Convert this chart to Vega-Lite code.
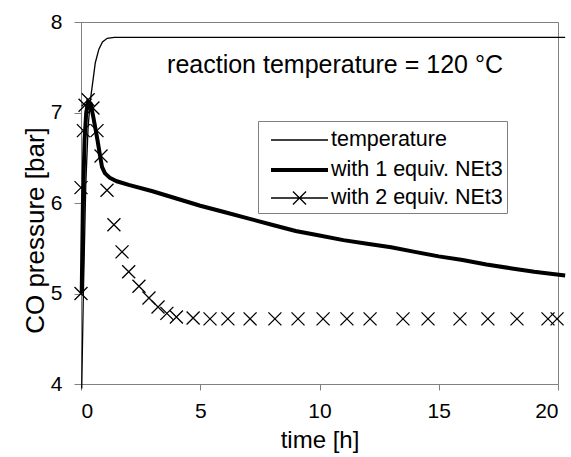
{
  "$schema": "https://vega.github.io/schema/vega-lite/v6.json",
  "width": 477,
  "height": 362,
  "autosize": {"type": "none"},
  "padding": {"left": 81, "top": 22, "right": 13, "bottom": 73},
  "background": "white",
  "config": {
    "view": {"stroke": "#808080", "strokeWidth": 1},
    "font": "Liberation Sans",
    "axis": {
      "grid": false,
      "domainColor": "#808080",
      "tickColor": "#808080",
      "labelColor": "black",
      "titleColor": "black",
      "labelFont": "Liberation Sans",
      "titleFont": "Liberation Sans",
      "titleFontWeight": "normal",
      "labelFontSize": 21,
      "titleFontSize": 24
    }
  },
  "datasets": {
    "main": [
      {"series": "temperature", "t": 0.03, "p": 3.95},
      {"series": "temperature", "t": 0.1, "p": 5.0},
      {"series": "temperature", "t": 0.2, "p": 6.2},
      {"series": "temperature", "t": 0.3, "p": 6.85},
      {"series": "temperature", "t": 0.4, "p": 7.15},
      {"series": "temperature", "t": 0.5, "p": 7.35},
      {"series": "temperature", "t": 0.6, "p": 7.55},
      {"series": "temperature", "t": 0.75, "p": 7.7},
      {"series": "temperature", "t": 0.9, "p": 7.78},
      {"series": "temperature", "t": 1.1, "p": 7.82},
      {"series": "temperature", "t": 1.4, "p": 7.83},
      {"series": "temperature", "t": 20.3, "p": 7.83},
      {"series": "with 1 equiv. NEt3", "t": 0.03, "p": 5.0},
      {"series": "with 1 equiv. NEt3", "t": 0.08, "p": 6.0},
      {"series": "with 1 equiv. NEt3", "t": 0.15, "p": 6.7},
      {"series": "with 1 equiv. NEt3", "t": 0.22, "p": 7.0},
      {"series": "with 1 equiv. NEt3", "t": 0.3, "p": 7.12},
      {"series": "with 1 equiv. NEt3", "t": 0.4, "p": 7.1},
      {"series": "with 1 equiv. NEt3", "t": 0.5, "p": 6.97},
      {"series": "with 1 equiv. NEt3", "t": 0.6, "p": 6.83},
      {"series": "with 1 equiv. NEt3", "t": 0.7, "p": 6.68},
      {"series": "with 1 equiv. NEt3", "t": 0.8, "p": 6.52},
      {"series": "with 1 equiv. NEt3", "t": 0.88, "p": 6.4},
      {"series": "with 1 equiv. NEt3", "t": 1.0, "p": 6.33},
      {"series": "with 1 equiv. NEt3", "t": 1.2, "p": 6.28},
      {"series": "with 1 equiv. NEt3", "t": 1.5, "p": 6.24},
      {"series": "with 1 equiv. NEt3", "t": 2, "p": 6.2},
      {"series": "with 1 equiv. NEt3", "t": 3, "p": 6.13},
      {"series": "with 1 equiv. NEt3", "t": 4, "p": 6.05},
      {"series": "with 1 equiv. NEt3", "t": 5, "p": 5.97},
      {"series": "with 1 equiv. NEt3", "t": 6, "p": 5.9},
      {"series": "with 1 equiv. NEt3", "t": 7, "p": 5.83},
      {"series": "with 1 equiv. NEt3", "t": 8, "p": 5.76},
      {"series": "with 1 equiv. NEt3", "t": 9, "p": 5.69},
      {"series": "with 1 equiv. NEt3", "t": 10, "p": 5.64},
      {"series": "with 1 equiv. NEt3", "t": 11, "p": 5.59},
      {"series": "with 1 equiv. NEt3", "t": 12, "p": 5.55},
      {"series": "with 1 equiv. NEt3", "t": 13, "p": 5.51},
      {"series": "with 1 equiv. NEt3", "t": 14, "p": 5.46},
      {"series": "with 1 equiv. NEt3", "t": 15, "p": 5.41},
      {"series": "with 1 equiv. NEt3", "t": 16, "p": 5.37},
      {"series": "with 1 equiv. NEt3", "t": 17, "p": 5.32},
      {"series": "with 1 equiv. NEt3", "t": 18, "p": 5.28},
      {"series": "with 1 equiv. NEt3", "t": 19, "p": 5.24},
      {"series": "with 1 equiv. NEt3", "t": 20.3, "p": 5.2},
      {"series": "with 2 equiv. NEt3", "t": 0.0, "p": 5.0},
      {"series": "with 2 equiv. NEt3", "t": 0.0, "p": 6.17},
      {"series": "with 2 equiv. NEt3", "t": 0.1, "p": 6.8},
      {"series": "with 2 equiv. NEt3", "t": 0.17, "p": 7.08},
      {"series": "with 2 equiv. NEt3", "t": 0.3, "p": 7.14},
      {"series": "with 2 equiv. NEt3", "t": 0.5, "p": 7.05},
      {"series": "with 2 equiv. NEt3", "t": 0.67, "p": 6.8},
      {"series": "with 2 equiv. NEt3", "t": 0.84, "p": 6.52},
      {"series": "with 2 equiv. NEt3", "t": 1.09, "p": 6.14},
      {"series": "with 2 equiv. NEt3", "t": 1.38, "p": 5.76},
      {"series": "with 2 equiv. NEt3", "t": 1.72, "p": 5.46},
      {"series": "with 2 equiv. NEt3", "t": 2.0, "p": 5.24},
      {"series": "with 2 equiv. NEt3", "t": 2.43, "p": 5.08},
      {"series": "with 2 equiv. NEt3", "t": 2.85, "p": 4.95},
      {"series": "with 2 equiv. NEt3", "t": 3.23, "p": 4.85},
      {"series": "with 2 equiv. NEt3", "t": 3.6, "p": 4.78},
      {"series": "with 2 equiv. NEt3", "t": 4.0, "p": 4.74},
      {"series": "with 2 equiv. NEt3", "t": 4.7, "p": 4.73},
      {"series": "with 2 equiv. NEt3", "t": 5.41, "p": 4.72},
      {"series": "with 2 equiv. NEt3", "t": 6.16, "p": 4.72},
      {"series": "with 2 equiv. NEt3", "t": 7.09, "p": 4.72},
      {"series": "with 2 equiv. NEt3", "t": 8.13, "p": 4.72},
      {"series": "with 2 equiv. NEt3", "t": 9.1, "p": 4.72},
      {"series": "with 2 equiv. NEt3", "t": 10.15, "p": 4.72},
      {"series": "with 2 equiv. NEt3", "t": 11.15, "p": 4.72},
      {"series": "with 2 equiv. NEt3", "t": 12.12, "p": 4.72},
      {"series": "with 2 equiv. NEt3", "t": 13.5, "p": 4.72},
      {"series": "with 2 equiv. NEt3", "t": 14.55, "p": 4.72},
      {"series": "with 2 equiv. NEt3", "t": 15.89, "p": 4.72},
      {"series": "with 2 equiv. NEt3", "t": 17.06, "p": 4.72},
      {"series": "with 2 equiv. NEt3", "t": 18.28, "p": 4.72},
      {"series": "with 2 equiv. NEt3", "t": 19.58, "p": 4.72},
      {"series": "with 2 equiv. NEt3", "t": 19.96, "p": 4.72}
    ],
    "note": [
      {"label": "reaction temperature = 120 °C", "t": 10.65, "p": 7.44}
    ]
  },
  "encoding": {
    "x": {
      "field": "t", "type": "quantitative",
      "scale": {"domain": [0, 20], "nice": false, "zero": false},
      "axis": {"title": "time [h]", "values": [0, 5, 10, 15, 20], "tickSize": 6, "labelPadding": 10, "titleBaseline": "alphabetic", "titleY": 63}
    },
    "y": {
      "field": "p", "type": "quantitative",
      "scale": {"domain": [4, 8], "nice": false, "zero": false},
      "axis": {"title": "CO pressure [bar]", "titleFontSize": 26, "values": [4, 5, 6, 7, 8], "tickSize": 7, "labelPadding": 12, "titleAngle": -90, "titleAlign": "center", "titleBaseline": "alphabetic", "titleX": -38, "titleY": 208}
    }
  },
  "layer": [
    {
      "data": {"name": "main"},
      "transform": [{"filter": "datum.series === 'temperature'"}],
      "mark": {"type": "line", "color": "black", "strokeWidth": 1.3, "clip": false}
    },
    {
      "data": {"name": "main"},
      "transform": [{"filter": "datum.series === 'with 1 equiv. NEt3'"}],
      "mark": {"type": "line", "color": "black", "strokeWidth": 4, "clip": false}
    },
    {
      "data": {"name": "main"},
      "transform": [{"filter": "datum.series === 'with 2 equiv. NEt3'"}],
      "mark": {"type": "point", "shape": "M-1,-1L1,1M-1,1L1,-1", "size": 169, "filled": false, "color": "black", "strokeWidth": 1.3, "opacity": 1, "clip": false}
    },
    {
      "data": {"name": "main"},
      "mark": {"type": "point", "filled": false, "color": "black", "opacity": 0},
      "encoding": {
        "shape": {
          "field": "series", "type": "nominal",
          "scale": {
            "domain": ["temperature", "with 1 equiv. NEt3", "with 2 equiv. NEt3"],
            "range": ["M-2,0H2", "M-2,0H2", "M-2,0H2M-0.46,-0.46L0.46,0.46M-0.46,0.46L0.46,-0.46"]
          },
          "legend": {
            "title": null,
            "orient": "none",
            "legendX": 177,
            "legendY": 99,
            "strokeColor": "#808080",
            "fillColor": "white",
            "padding": 4,
            "symbolSize": 812,
            "symbolOffset": 21,
            "labelOffset": 15,
            "rowPadding": 2.5,
            "labelFont": "Liberation Sans",
            "labelFontSize": 21.5,
            "labelColor": "black",
            "labelLimit": 400,
            "symbolStrokeColor": "black",
            "symbolFillColor": "transparent",
            "symbolOpacity": 1
          }
        },
        "strokeWidth": {
          "field": "series", "type": "nominal",
          "scale": {
            "type": "ordinal",
            "domain": ["temperature", "with 1 equiv. NEt3", "with 2 equiv. NEt3"],
            "range": [1.3, 4, 1.3]
          }
        }
      }
    },
    {
      "data": {"name": "note"},
      "mark": {"type": "text", "font": "Liberation Sans", "fontSize": 25, "align": "center", "baseline": "alphabetic", "color": "black"},
      "encoding": {"text": {"field": "label"}}
    }
  ]
}
